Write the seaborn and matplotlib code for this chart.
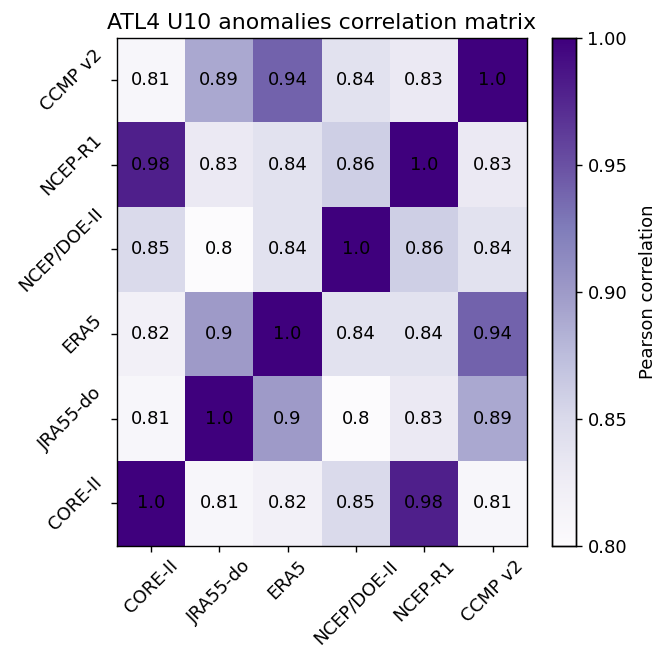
import numpy as np
import pandas as pd
import matplotlib
matplotlib.use("Agg")
import matplotlib.pyplot as plt
import seaborn as sns

products = ["CORE-II", "JRA55-do", "ERA5", "NCEP/DOE-II", "NCEP-R1", "CCMP v2"]

# Pearson correlation of U10 anomalies between each pair of products
core_ii = [1.0, 0.81, 0.82, 0.85, 0.98, 0.81]
jra55_do = [0.81, 1.0, 0.9, 0.8, 0.83, 0.89]
era5 = [0.82, 0.9, 1.0, 0.84, 0.84, 0.94]
ncep_doe_ii = [0.85, 0.8, 0.84, 1.0, 0.86, 0.84]
ncep_r1 = [0.98, 0.83, 0.84, 0.86, 1.0, 0.83]
ccmp_v2 = [0.81, 0.89, 0.94, 0.84, 0.83, 1.0]

corr = pd.DataFrame([core_ii, jra55_do, era5, ncep_doe_ii, ncep_r1, ccmp_v2],
                    index=products, columns=products)

sns.reset_orig()
plt.rcParams["font.family"] = ["DejaVu Sans"]

fs = 13
fig = plt.figure(figsize=(6.56, 6.49), dpi=100)
ax = fig.add_axes([0.178, 0.159, 0.625, 0.783])
cax = fig.add_axes([0.8415, 0.159, 0.037, 0.783])

labels = corr.map(lambda v: str(round(v, 2)))
sns.heatmap(corr, ax=ax, cbar_ax=cax, cmap="Purples", vmin=0.8, vmax=1.0,
            annot=labels, fmt="", annot_kws={"color": "black", "fontsize": fs},
            cbar_kws={"ticks": [0.80, 0.85, 0.90, 0.95, 1.00],
                      "format": "%.2f"})
ax.invert_yaxis()
for s in list(ax.spines.values()) + list(cax.spines.values()):
    s.set_visible(True)
    s.set_linewidth(1.0)
    s.set_edgecolor("black")

ax.set_xticklabels(products, rotation=45, fontsize=fs)
ax.set_yticklabels(products, rotation=45, fontsize=fs, va="center")
ax.tick_params(length=4.5, width=1, colors="black")
cax.tick_params(labelsize=fs, length=4.5, width=1, colors="black")
cax.set_ylabel("Pearson correlation", fontsize=fs, labelpad=8)
ax.set_xlabel("")
ax.set_ylabel("")
ax.set_title("ATL4 U10 anomalies correlation matrix", fontsize=15.8)

fig.savefig("out.png", dpi=100)
